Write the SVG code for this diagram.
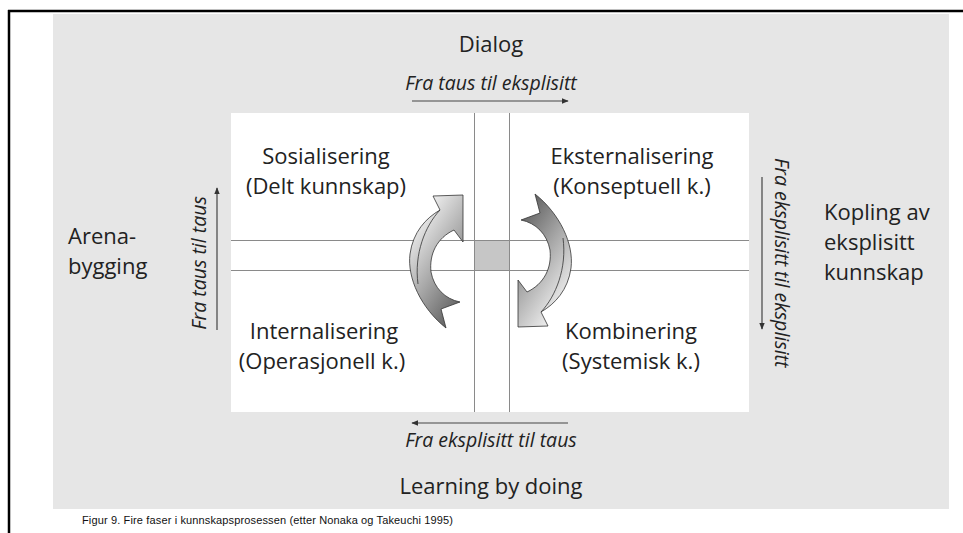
<svg xmlns="http://www.w3.org/2000/svg" width="963" height="533" viewBox="0 0 963 533">
<defs>
<style>
.lbl{font-family:"Open Sans","Noto Sans",sans-serif;font-size:22px;fill:#222;}
.it{font-family:"Open Sans","Noto Sans",sans-serif;font-size:19.5px;font-style:italic;fill:#222;}
.grid{stroke:#8a8a8a;stroke-width:1;fill:none;}
.conn{stroke:#444;stroke-width:1.2;fill:none;}
.cap{font-family:"Liberation Sans",Arial,sans-serif;font-size:11px;fill:#111;}
.arr{stroke:#333;stroke-width:0.8;}
</style>
<marker id="ah" viewBox="0 0 10 10" refX="9" refY="5" markerWidth="7" markerHeight="7" orient="auto" markerUnits="userSpaceOnUse">
<path d="M0,1 L10,5 L0,9 Z" fill="#333"/>
</marker>
<linearGradient id="g" x1="0" y1="0" x2="0.6" y2="1">
<stop offset="0" stop-color="#4a4a4a"/>
<stop offset="0.55" stop-color="#a8a8a8"/>
<stop offset="1" stop-color="#f2f2f2"/>
</linearGradient>
<path id="carrow" d="M535,194 C560,214 574,244 571,268 C568,290 555,304 541,312 L548,326 L518,327 L518,280 L527,292 C544,284 552,268 550,250 C547,234 536,223 521,220 L540,213 Z"/>
</defs>
<rect x="0" y="0" width="963" height="533" fill="#ffffff"/>
<g id="frame">
<line x1="8" y1="11" x2="963" y2="11" stroke="#000" stroke-width="2.5"/>
<line x1="9" y1="10" x2="9" y2="533" stroke="#000" stroke-width="2.5"/>
</g>
<rect id="background" x="53" y="14" width="896" height="495" fill="#e6e6e6"/>
<g id="matrix">
<rect x="231" y="113" width="518" height="299" fill="#ffffff"/>
<rect x="474" y="240" width="35" height="30" fill="#c6c6c6"/>
<line class="grid" x1="474.5" y1="113" x2="474.5" y2="412"/>
<line class="grid" x1="509.5" y1="113" x2="509.5" y2="412"/>
<line class="grid" x1="231" y1="240.5" x2="749" y2="240.5"/>
<line class="grid" x1="231" y1="270.5" x2="749" y2="270.5"/>
</g>
<g id="connectors">
<line class="conn" x1="412" y1="101" x2="568" y2="101" marker-end="url(#ah)"/>
<line class="conn" x1="568" y1="423" x2="412" y2="423" marker-end="url(#ah)"/>
<line class="conn" x1="217" y1="330" x2="217" y2="188" marker-end="url(#ah)"/>
<line class="conn" x1="762" y1="177" x2="762" y2="329" marker-end="url(#ah)"/>
</g>
<g id="cycle-arrows">
<g id="arrow-right">
<use href="#carrow" fill="url(#g)" class="arr"/>
<path d="M541,312 C556,296 567,268 563,238" fill="none" stroke="#333" stroke-width="0.8"/>
</g>
<g id="arrow-left" transform="rotate(180 490.5 261)">
<use href="#carrow" fill="url(#g)" class="arr"/>
<path d="M541,312 C556,296 567,268 563,238" fill="none" stroke="#333" stroke-width="0.8"/>
</g>
</g>
<g id="top-label"><text class="lbl" x="491" y="52" text-anchor="middle">Dialog</text></g>
<g id="top-arrow-label"><text class="it" x="491" y="90" text-anchor="middle">Fra taus til eksplisitt</text></g>
<g id="bottom-label"><text class="lbl" x="491" y="494" text-anchor="middle">Learning by doing</text></g>
<g id="bottom-arrow-label"><text class="it" x="491" y="447" text-anchor="middle">Fra eksplisitt til taus</text></g>
<g id="left-label"><text class="lbl" x="68" y="244">Arena-</text><text class="lbl" x="68" y="274">bygging</text></g>
<g id="right-label"><text class="lbl" x="824" y="220">Kopling av</text><text class="lbl" x="824" y="250">eksplisitt</text><text class="lbl" x="824" y="280">kunnskap</text></g>
<g id="left-arrow-label"><text class="it" transform="translate(206 263) rotate(-90)" text-anchor="middle">Fra taus til taus</text></g>
<g id="right-arrow-label"><text class="it" transform="translate(775 158) rotate(90)">Fra eksplisitt til eksplisitt</text></g>
<g id="sosialisering"><text class="lbl" x="326" y="164" text-anchor="middle">Sosialisering</text><text class="lbl" x="326" y="194" text-anchor="middle">(Delt kunnskap)</text></g>
<g id="eksternalisering"><text class="lbl" x="632" y="164" text-anchor="middle">Eksternalisering</text><text class="lbl" x="632" y="194" text-anchor="middle">(Konseptuell k.)</text></g>
<g id="internalisering"><text class="lbl" x="324" y="339" text-anchor="middle">Internalisering</text><text class="lbl" x="322" y="369" text-anchor="middle">(Operasjonell k.)</text></g>
<g id="kombinering"><text class="lbl" x="631" y="339" text-anchor="middle">Kombinering</text><text class="lbl" x="631" y="369" text-anchor="middle">(Systemisk k.)</text></g>
<g id="caption"><text class="cap" x="82" y="524" textLength="371" lengthAdjust="spacing">Figur 9. Fire faser i kunnskapsprosessen (etter Nonaka og Takeuchi 1995)</text></g>
</svg>
